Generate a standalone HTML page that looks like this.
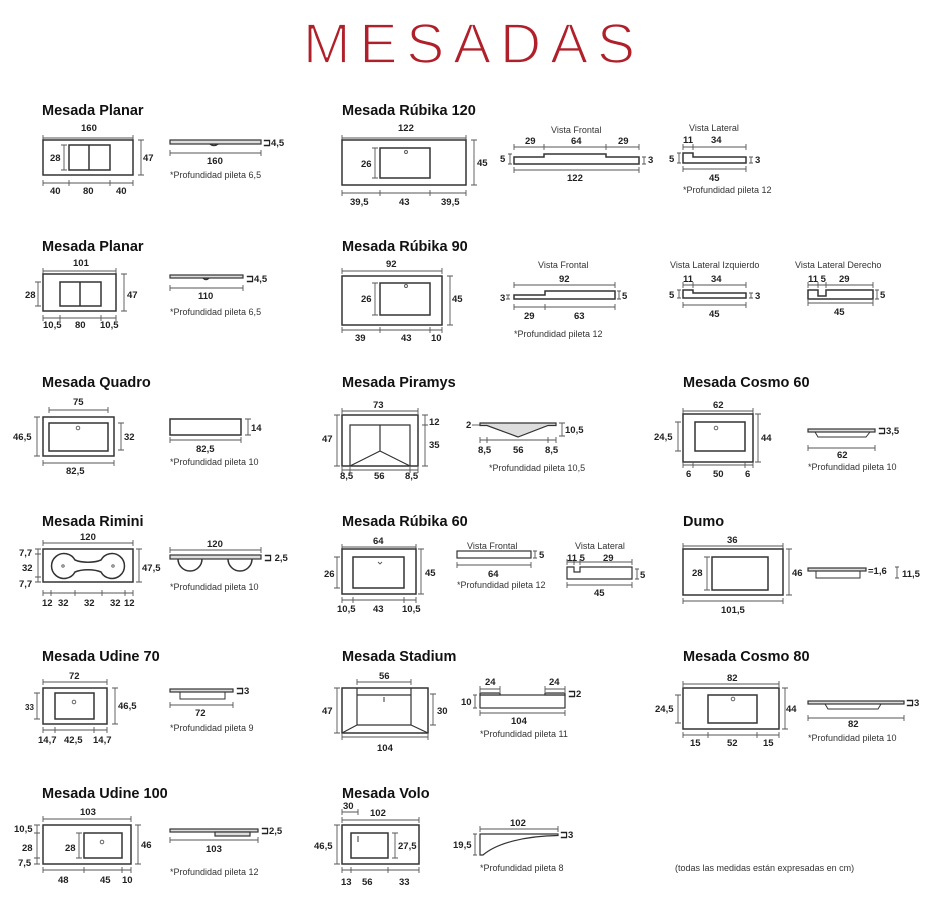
<!DOCTYPE html>
<html><head><meta charset="utf-8"><style>
html,body{margin:0;padding:0;background:#fff;}
svg{display:block;}
.t{font-family:"Liberation Sans",sans-serif;font-weight:bold;font-size:14.5px;fill:#111;}
.d{font-family:"Liberation Sans",sans-serif;font-weight:bold;font-size:9.5px;fill:#222;}
.n{font-family:"Liberation Sans",sans-serif;font-size:9px;fill:#333;}
.s{fill:none;stroke:#333;stroke-width:1.5;}
.m{fill:none;stroke:#555;stroke-width:0.9;}
.g{fill:#ddd;stroke:#333;stroke-width:1.2;}
</style></head><body>
<svg width="951" height="907" viewBox="0 0 951 907" xmlns="http://www.w3.org/2000/svg">
<text x="303" y="63" textLength="332" lengthAdjust="spacing" font-family="Liberation Sans,sans-serif" font-size="57" fill="#b0202a" stroke="#fff" stroke-width="1.8" paint-order="normal">MESADAS</text>

<!-- Planar 1 -->
<text class="t" x="42" y="115">Mesada Planar</text>
<text class="d" x="81" y="131">160</text>
<path class="m" d="M43 138H133M43 135v6M133 135v6"/>
<rect class="s" x="43" y="140" width="90" height="35"/>
<rect class="s" x="69" y="145" width="41" height="25"/><path class="s" d="M89 145V170"/>
<path class="m" d="M64 145V170M61 145h6M61 170h6"/><text class="d" x="50" y="161">28</text>
<path class="m" d="M141 140V175M138 140h6M138 175h6"/><text class="d" x="143" y="161">47</text>
<path class="m" d="M43 183H133M43 180v6M69 180v6M110 180v6M133 180v6"/>
<text class="d" x="50" y="194">40</text><text class="d" x="83" y="194">80</text><text class="d" x="116" y="194">40</text>
<rect class="g" x="170" y="140" width="91" height="4"/><path class="s" d="M210 144q4 3 8 0"/>
<text class="d" x="263" y="146">⊐4,5</text>
<path class="m" d="M170 153H261M170 150v6M261 150v6"/><text class="d" x="207" y="164">160</text>
<text class="n" x="170" y="178">*Profundidad pileta 6,5</text>

<!-- Planar 2 -->
<text class="t" x="42" y="251">Mesada Planar</text>
<text class="d" x="73" y="266">101</text>
<path class="m" d="M43 271H116M43 268v6M116 268v6"/>
<rect class="s" x="43" y="274" width="73" height="37"/>
<rect class="s" x="60" y="282" width="41" height="24"/><path class="s" d="M80 282V306"/>
<path class="m" d="M38 282V306M35 282h6M35 306h6"/><text class="d" x="25" y="298">28</text>
<path class="m" d="M124 274V311M121 274h6M121 311h6"/><text class="d" x="127" y="298">47</text>
<path class="m" d="M43 318H116M43 315v6M60 315v6M101 315v6M116 315v6"/>
<text class="d" x="43" y="328">10,5</text><text class="d" x="75" y="328">80</text><text class="d" x="100" y="328">10,5</text>
<rect class="g" x="170" y="275" width="73" height="3"/><path class="s" d="M203 278q3 3 6 0"/>
<text class="d" x="246" y="282">⊐4,5</text>
<path class="m" d="M170 288H243M170 285v6M243 285v6"/><text class="d" x="198" y="299">110</text>
<text class="n" x="170" y="315">*Profundidad pileta 6,5</text>

<!-- Quadro -->
<text class="t" x="42" y="387">Mesada Quadro</text>
<text class="d" x="73" y="405">75</text>
<path class="m" d="M49 410H108M49 407v6M108 407v6"/>
<rect class="s" x="43" y="417" width="71" height="39"/>
<rect class="s" x="49" y="423" width="59" height="28"/><circle class="m" cx="78" cy="428" r="1.8"/>
<path class="m" d="M37 417V456M34 417h6M34 456h6"/><text class="d" x="13" y="440">46,5</text>
<path class="m" d="M121 423V450M118 423h6M118 450h6"/><text class="d" x="124" y="440">32</text>
<path class="m" d="M43 463H114M43 460v6M114 460v6"/><text class="d" x="66" y="474">82,5</text>
<rect class="s" x="170" y="419" width="71" height="16"/>
<path class="m" d="M248 419V435M245 419h6M245 435h6"/><text class="d" x="251" y="431">14</text>
<path class="m" d="M170 440H241M170 437v6M241 437v6"/><text class="d" x="196" y="452">82,5</text>
<text class="n" x="170" y="465">*Profundidad pileta 10</text>

<!-- Rimini -->
<text class="t" x="42" y="526">Mesada Rimini</text>
<text class="d" x="80" y="540">120</text>
<path class="m" d="M43 543H133M43 540v6M133 540v6"/>
<rect class="s" x="43" y="549" width="90" height="33"/>
<path class="s" d="M75 560C82 563 94 563 101 560A12.5 12.5 0 1 1 101 572C94 569 82 569 75 572A12.5 12.5 0 1 1 75 560Z"/>
<circle class="m" cx="63" cy="566" r="1.2"/><circle class="m" cx="113" cy="566" r="1.2"/>
<path class="m" d="M38 549V582M35 549h6M35 554h6M35 577h6M35 582h6"/>
<text class="d" x="19" y="556">7,7</text><text class="d" x="22" y="571">32</text><text class="d" x="19" y="587">7,7</text>
<path class="m" d="M139 549V582M136 549h6M136 582h6"/><text class="d" x="142" y="571">47,5</text>
<path class="m" d="M43 593H133M43 590v6M51 590v6M75 590v6M102 590v6M125 590v6M133 590v6"/>
<text class="d" x="42" y="606">12</text><text class="d" x="58" y="606">32</text><text class="d" x="84" y="606">32</text><text class="d" x="110" y="606">32</text><text class="d" x="124" y="606">12</text>
<text class="d" x="207" y="547">120</text>
<path class="m" d="M170 550H261M170 547v6M261 547v6"/>
<rect class="g" x="170" y="555" width="91" height="4"/>
<path class="s" d="M178 559A12 12 0 0 0 202 559M228 559A12 12 0 0 0 252 559"/>
<text class="d" x="264" y="561">⊐ 2,5</text>
<text class="n" x="170" y="590">*Profundidad pileta 10</text>

<!-- Udine 70 -->
<text class="t" x="42" y="661">Mesada Udine 70</text>
<text class="d" x="69" y="679">72</text>
<path class="m" d="M43 682H107M43 679v6M107 679v6"/>
<rect class="s" x="43" y="688" width="64" height="36"/>
<rect class="s" x="55" y="693" width="39" height="26"/><circle class="m" cx="74" cy="702" r="1.8"/>
<path class="m" d="M37 693V719M34 693h6M34 719h6"/><text class="d" x="25" y="710" style="font-size:8px">33</text>
<path class="m" d="M115 688V724M112 688h6M112 724h6"/><text class="d" x="118" y="709">46,5</text>
<path class="m" d="M43 730H107M43 727v6M55 727v6M94 727v6M107 727v6"/>
<text class="d" x="38" y="743">14,7</text><text class="d" x="64" y="743">42,5</text><text class="d" x="93" y="743">14,7</text>
<rect class="g" x="170" y="689" width="63" height="3"/><rect class="s" x="180" y="692" width="45" height="7" style="stroke-width:1"/>
<text class="d" x="236" y="694">⊐3</text>
<path class="m" d="M170 705H233M170 702v6M233 702v6"/><text class="d" x="195" y="716">72</text>
<text class="n" x="170" y="731">*Profundidad pileta 9</text>

<!-- Udine 100 -->
<text class="t" x="42" y="798">Mesada Udine 100</text>
<text class="d" x="80" y="815">103</text>
<path class="m" d="M43 819H131M43 816v6M131 816v6"/>
<rect class="s" x="43" y="825" width="88" height="39"/>
<rect class="s" x="84" y="833" width="38" height="25"/><circle class="m" cx="102" cy="842" r="1.8"/>
<path class="m" d="M37 825V864M34 825h6M34 833h6M34 858h6M34 864h6"/>
<text class="d" x="14" y="832">10,5</text><text class="d" x="22" y="851">28</text><text class="d" x="18" y="866">7,5</text>
<path class="m" d="M79 833V858M76 833h6M76 858h6"/><text class="d" x="65" y="851">28</text>
<path class="m" d="M138 825V864M135 825h6M135 864h6"/><text class="d" x="141" y="848">46</text>
<path class="m" d="M43 870H131M43 867v6M84 867v6M122 867v6M131 867v6"/>
<text class="d" x="58" y="883">48</text><text class="d" x="100" y="883">45</text><text class="d" x="122" y="883">10</text>
<rect class="g" x="170" y="829" width="88" height="3"/><rect class="g" x="215" y="832" width="35" height="4"/>
<text class="d" x="261" y="834">⊐2,5</text>
<path class="m" d="M170 840H258M170 837v6M258 837v6"/><text class="d" x="206" y="852">103</text>
<text class="n" x="170" y="875">*Profundidad pileta 12</text>

<!-- Rubika 120 -->
<text class="t" x="342" y="115">Mesada Rúbika 120</text>
<text class="d" x="398" y="131">122</text>
<path class="m" d="M342 138H466M342 135v6M466 135v6"/>
<rect class="s" x="342" y="140" width="124" height="45"/>
<rect class="s" x="380" y="148" width="50" height="30"/><circle class="m" cx="406" cy="152" r="1.5"/>
<path class="m" d="M375 148V178M372 148h6M372 178h6"/><text class="d" x="361" y="167">26</text>
<path class="m" d="M474 140V185M471 140h6M471 185h6"/><text class="d" x="477" y="166">45</text>
<path class="m" d="M342 193H466M342 190v6M380 190v6M430 190v6M466 190v6"/>
<text class="d" x="350" y="205">39,5</text><text class="d" x="399" y="205">43</text><text class="d" x="441" y="205">39,5</text>
<text class="n" x="551" y="133">Vista Frontal</text>
<path class="m" d="M514 147H639M514 144v6M544 144v6M606 144v6M639 144v6"/>
<text class="d" x="525" y="144">29</text><text class="d" x="571" y="144">64</text><text class="d" x="618" y="144">29</text>
<path class="s" d="M514 157H544V154H606V157H639V164H514Z"/>
<path class="m" d="M510 154V164M508 154h4M508 164h4"/><text class="d" x="500" y="162">5</text>
<path class="m" d="M644 157V164M642 157h4M642 164h4"/><text class="d" x="648" y="163">3</text>
<path class="m" d="M514 170H639M514 167v6M639 167v6"/><text class="d" x="567" y="181">122</text>
<text class="n" x="689" y="131">Vista Lateral</text>
<path class="m" d="M683 147H746M683 144v6M693 144v6M746 144v6"/>
<text class="d" x="683" y="143">11</text><text class="d" x="711" y="143">34</text>
<path class="s" d="M683 153H693V157H746V163H683Z"/>
<path class="m" d="M679 153V163M677 153h4M677 163h4"/><text class="d" x="669" y="162">5</text>
<path class="m" d="M751 157V163M749 157h4M749 163h4"/><text class="d" x="755" y="163">3</text>
<path class="m" d="M683 169H746M683 166v6M746 166v6"/><text class="d" x="709" y="181">45</text>
<text class="n" x="683" y="193">*Profundidad pileta 12</text>

<!-- Rubika 90 -->
<text class="t" x="342" y="251">Mesada Rúbika 90</text>
<text class="d" x="386" y="267">92</text>
<path class="m" d="M342 271H442M342 268v6M442 268v6"/>
<rect class="s" x="342" y="276" width="100" height="49"/>
<rect class="s" x="380" y="283" width="50" height="32"/><circle class="m" cx="406" cy="286" r="1.5"/>
<path class="m" d="M375 283V315M372 283h6M372 315h6"/><text class="d" x="361" y="302">26</text>
<path class="m" d="M450 276V325M447 276h6M447 325h6"/><text class="d" x="452" y="302">45</text>
<path class="m" d="M342 330H442M342 327v6M380 327v6M430 327v6M442 327v6"/>
<text class="d" x="355" y="341">39</text><text class="d" x="401" y="341">43</text><text class="d" x="431" y="341">10</text>
<text class="n" x="538" y="268">Vista Frontal</text>
<path class="m" d="M514 285H615M514 282v6M615 282v6"/><text class="d" x="559" y="282">92</text>
<path class="s" d="M514 295H545V291H615V299H514Z"/>
<path class="m" d="M508 295V299M506 295h4M506 299h4"/><text class="d" x="500" y="301">3</text>
<path class="m" d="M619 291V299M617 291h4M617 299h4"/><text class="d" x="622" y="299">5</text>
<path class="m" d="M514 307H615M514 304v6M545 304v6M615 304v6"/>
<text class="d" x="524" y="319">29</text><text class="d" x="574" y="319">63</text>
<text class="n" x="514" y="337">*Profundidad pileta 12</text>
<text class="n" x="670" y="268">Vista Lateral Izquierdo</text>
<path class="m" d="M683 285H746M683 282v6M693 282v6M746 282v6"/>
<text class="d" x="683" y="282">11</text><text class="d" x="711" y="282">34</text>
<path class="s" d="M683 290H693V293H746V298H683Z"/>
<path class="m" d="M679 290V298M677 290h4M677 298h4"/><text class="d" x="669" y="298">5</text>
<path class="m" d="M751 293V298M749 293h4M749 298h4"/><text class="d" x="755" y="299">3</text>
<path class="m" d="M683 305H746M683 302v6M746 302v6"/><text class="d" x="709" y="317">45</text>
<text class="n" x="795" y="268">Vista Lateral Derecho</text>
<path class="m" d="M808 285H873M808 282v6M818 282v6M826 282v6M873 282v6"/>
<text class="d" x="808" y="282">11 5</text><text class="d" x="839" y="282">29</text>
<path class="s" d="M808 290H818V296H826V290H873V299H808Z"/>
<path class="m" d="M877 290V299M875 290h4M875 299h4"/><text class="d" x="880" y="298">5</text>
<path class="m" d="M808 303H873M808 300v6M873 300v6"/><text class="d" x="834" y="315">45</text>

<!-- Piramys -->
<text class="t" x="342" y="387">Mesada Piramys</text>
<text class="d" x="373" y="408">73</text>
<path class="m" d="M342 411H418M342 408v6M418 408v6"/>
<rect class="s" x="342" y="415" width="76" height="51"/>
<path class="s" d="M350 466V425H410V466M380 425V451M350 466L380 451L410 466" style="stroke-width:1.2"/>
<path class="m" d="M337 415V466M334 415h6M334 466h6"/><text class="d" x="322" y="442">47</text>
<path class="m" d="M425 415V466M422 415h6M422 425h6M422 466h6"/>
<text class="d" x="429" y="425">12</text><text class="d" x="429" y="448">35</text>
<path class="m" d="M342 470H418M342 467v6M350 467v6M410 467v6M418 467v6"/>
<text class="d" x="340" y="479">8,5</text><text class="d" x="374" y="479">56</text><text class="d" x="405" y="479">8,5</text>
<text class="d" x="466" y="428">2</text><path class="m" d="M472 425H480"/>
<path class="g" d="M480 423H556V425.5H548L518 437L487 425.5H480Z"/>
<path class="m" d="M562 423V436M559 423h6M559 436h6"/><text class="d" x="565" y="433">10,5</text>
<path class="m" d="M480 440H556M480 437v6M487 437v6M548 437v6M556 437v6"/>
<text class="d" x="478" y="453">8,5</text><text class="d" x="513" y="453">56</text><text class="d" x="545" y="453">8,5</text>
<text class="n" x="489" y="471">*Profundidad pileta 10,5</text>

<!-- Cosmo 60 -->
<text class="t" x="683" y="387">Mesada Cosmo 60</text>
<text class="d" x="713" y="408">62</text>
<path class="m" d="M683 411H753M683 408v6M753 408v6"/>
<rect class="s" x="683" y="414" width="70" height="48"/>
<rect class="s" x="695" y="422" width="50" height="29"/><circle class="m" cx="716" cy="428" r="1.8"/>
<path class="m" d="M678 422V451M675 422h6M675 451h6"/><text class="d" x="654" y="440">24,5</text>
<path class="m" d="M758 414V462M755 414h6M755 462h6"/><text class="d" x="761" y="441">44</text>
<path class="m" d="M683 465H753M683 462v6M693 462v6M745 462v6M753 462v6"/>
<text class="d" x="686" y="477">6</text><text class="d" x="713" y="477">50</text><text class="d" x="745" y="477">6</text>
<rect class="g" x="808" y="429" width="67" height="3"/><path class="s" d="M815 432L818 437H866L870 432" style="stroke-width:1"/>
<text class="d" x="878" y="434">⊐3,5</text>
<path class="m" d="M808 448H875M808 445v6M875 445v6"/><text class="d" x="837" y="458">62</text>
<text class="n" x="808" y="470">*Profundidad pileta 10</text>

<!-- Rubika 60 -->
<text class="t" x="342" y="526">Mesada Rúbika 60</text>
<text class="d" x="373" y="544">64</text>
<path class="m" d="M342 547H416M342 544v6M416 544v6"/>
<rect class="s" x="342" y="549" width="74" height="45"/>
<rect class="s" x="353" y="557" width="51" height="31"/><path class="m" d="M378 562l2 2 2-2"/>
<path class="m" d="M337 557V588M334 557h6M334 588h6"/><text class="d" x="324" y="577">26</text>
<path class="m" d="M421 549V594M418 549h6M418 594h6"/><text class="d" x="425" y="576">45</text>
<path class="m" d="M342 600H416M342 597v6M353 597v6M404 597v6M416 597v6"/>
<text class="d" x="337" y="612">10,5</text><text class="d" x="373" y="612">43</text><text class="d" x="402" y="612">10,5</text>
<text class="n" x="467" y="549">Vista Frontal</text>
<rect class="s" x="457" y="551" width="74" height="7" style="stroke-width:1.2"/>
<path class="m" d="M535 551V558M533 551h4M533 558h4"/><text class="d" x="539" y="558">5</text>
<path class="m" d="M457 565H531M457 562v6M531 562v6"/><text class="d" x="488" y="577">64</text>
<text class="n" x="457" y="588">*Profundidad pileta 12</text>
<text class="n" x="575" y="549">Vista Lateral</text>
<path class="m" d="M567 562H632M567 559v6M574 559v6M580 559v6M632 559v6"/>
<text class="d" x="567" y="561">11 5</text><text class="d" x="603" y="561">29</text>
<path class="s" d="M567 567H574V572H580V567H632V579H567Z" style="stroke-width:1.2"/>
<path class="m" d="M637 569V579M635 569h4M635 579h4"/><text class="d" x="640" y="578">5</text>
<path class="m" d="M567 585H632M567 582v6M632 582v6"/><text class="d" x="594" y="596">45</text>

<!-- Dumo -->
<text class="t" x="683" y="526">Dumo</text>
<text class="d" x="727" y="543">36</text>
<path class="m" d="M683 546H783M683 543v6M783 543v6"/>
<rect class="s" x="683" y="549" width="100" height="46"/>
<rect class="s" x="712" y="557" width="56" height="33"/>
<path class="m" d="M707 557V590M704 557h6M704 590h6"/><text class="d" x="692" y="576">28</text>
<path class="m" d="M789 549V595M786 549h6M786 595h6"/><text class="d" x="792" y="576">46</text>
<path class="m" d="M683 601H783M683 598v6M783 598v6"/><text class="d" x="721" y="613">101,5</text>
<rect class="g" x="808" y="568" width="58" height="3"/><rect class="s" x="816" y="571" width="44" height="7" style="stroke-width:1"/>
<text class="d" x="868" y="574">=1,6</text>
<path class="m" d="M897 567V578M895 567h4M895 578h4"/><text class="d" x="902" y="577">11,5</text>

<!-- Stadium -->
<text class="t" x="342" y="661">Mesada Stadium</text>
<text class="d" x="379" y="679">56</text>
<path class="m" d="M357 682H411M357 679v6M411 679v6"/>
<rect class="s" x="342" y="688" width="86" height="45"/>
<path class="s" d="M357 688V725H411V688M357 695H411M342 733L357 725M428 733L411 725" style="stroke-width:1.2"/>
<path class="s" d="M384 697V702" style="stroke-width:1"/>
<path class="m" d="M337 688V733M334 688h6M334 733h6"/><text class="d" x="322" y="714">47</text>
<path class="m" d="M433 694V725M430 694h6M430 725h6"/><text class="d" x="437" y="714">30</text>
<path class="m" d="M342 737H428M342 734v6M428 734v6"/><text class="d" x="377" y="751">104</text>
<path class="m" d="M480 689H500M480 686v6M500 686v6M545 689H565M545 686v6M565 686v6"/>
<text class="d" x="485" y="685">24</text><text class="d" x="549" y="685">24</text>
<rect class="s" x="480" y="695" width="85" height="13" style="stroke-width:1.2"/>
<rect class="g" x="480" y="693" width="20" height="2"/><rect class="g" x="545" y="693" width="20" height="2"/>
<text class="d" x="568" y="697">⊐2</text>
<path class="m" d="M475 695V708M473 695h4M473 708h4"/><text class="d" x="461" y="705">10</text>
<path class="m" d="M480 713H565M480 710v6M565 710v6"/><text class="d" x="511" y="724">104</text>
<text class="n" x="480" y="737">*Profundidad pileta 11</text>

<!-- Volo -->
<text class="t" x="342" y="798">Mesada Volo</text>
<text class="d" x="343" y="809">30</text>
<path class="m" d="M342 812H358M342 809v6M358 809v6"/>
<text class="d" x="370" y="816">102</text>
<path class="m" d="M342 820H419M342 817v6M419 817v6"/>
<rect class="s" x="342" y="825" width="77" height="39"/>
<rect class="s" x="351" y="833" width="37" height="25"/><path class="s" d="M358 836V842" style="stroke-width:1"/>
<path class="m" d="M337 825V864M334 825h6M334 864h6"/><text class="d" x="314" y="849">46,5</text>
<path class="m" d="M395 833V858M392 833h6M392 858h6"/><text class="d" x="398" y="849">27,5</text>
<path class="m" d="M342 870H419M342 867v6M351 867v6M388 867v6M419 867v6"/>
<text class="d" x="341" y="885">13</text><text class="d" x="362" y="885">56</text><text class="d" x="399" y="885">33</text>
<text class="d" x="510" y="826">102</text>
<path class="m" d="M480 829H558M480 826v6M558 826v6"/>
<path class="s" d="M480 834H558V835.5C525 836 497 843 483 855H480Z" style="stroke-width:1.2"/>
<text class="d" x="560" y="838">⊐3</text>
<path class="m" d="M475 834V855M473 834h4M473 855h4"/><text class="d" x="453" y="848">19,5</text>
<text class="n" x="480" y="871">*Profundidad pileta 8</text>

<!-- Cosmo 80 -->
<text class="t" x="683" y="661">Mesada Cosmo 80</text>
<text class="d" x="727" y="681">82</text>
<path class="m" d="M683 684H779M683 681v6M779 681v6"/>
<rect class="s" x="683" y="688" width="96" height="41"/>
<rect class="s" x="708" y="695" width="49" height="28"/><circle class="m" cx="733" cy="699" r="1.8"/>
<path class="m" d="M678 695V723M675 695h6M675 723h6"/><text class="d" x="655" y="712">24,5</text>
<path class="m" d="M785 688V729M782 688h6M782 729h6"/><text class="d" x="786" y="712">44</text>
<path class="m" d="M683 735H779M683 732v6M708 732v6M757 732v6M779 732v6"/>
<text class="d" x="690" y="746">15</text><text class="d" x="727" y="746">52</text><text class="d" x="763" y="746">15</text>
<rect class="g" x="808" y="701" width="96" height="3"/><path class="s" d="M825 704L828 709H878L881 704" style="stroke-width:1"/>
<text class="d" x="906" y="706">⊐3</text>
<path class="m" d="M808 718H904M808 715v6M904 715v6"/><text class="d" x="848" y="727">82</text>
<text class="n" x="808" y="741">*Profundidad pileta 10</text>

<text class="n" x="675" y="871">(todas las medidas están expresadas en cm)</text>
</svg>
</body></html>
